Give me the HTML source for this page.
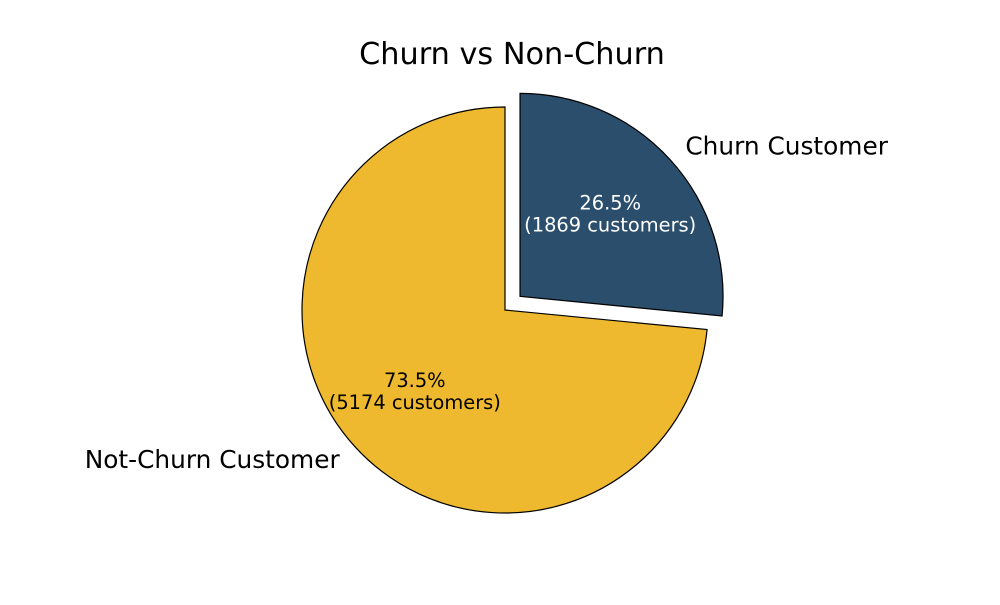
<!DOCTYPE html>
<html><head><meta charset="utf-8"><style>
body{margin:0;background:#fff}
svg text{font-family:"DejaVu Sans","Liberation Sans",sans-serif}
</style></head><body>
<svg id="chart" width="1000" height="600" viewBox="0 0 1000 600" xmlns="http://www.w3.org/2000/svg">
<text x="512" y="64" font-size="30.3" text-anchor="middle" fill="#000">Churn vs Non-Churn</text>
<g id="slices"></g>
</svg>
<script>
const categories = ["Churn Customer", "Not-Churn Customer"];
const values = [1869, 5174];
const explode = [0.1, 0];
const colors = ["#2a4e6c", "#eeb92f"];
const textColors = ["#fff", "#000"];
const cx = 505, cy = 310, r = 203;
const g = document.getElementById('slices');
const NS = "http://www.w3.org/2000/svg";
const total = values.reduce((a,b)=>a+b,0);
let start = 90;
values.forEach((v,i)=>{
  const sweep = v/total*360;
  const a0 = start, a1 = start - sweep, mid = (a0+a1)/2;
  const rad = d=>d*Math.PI/180;
  const ox = cx + explode[i]*r*Math.cos(rad(mid));
  const oy = cy - explode[i]*r*Math.sin(rad(mid));
  const x0 = ox + r*Math.cos(rad(a0)), y0 = oy - r*Math.sin(rad(a0));
  const x1 = ox + r*Math.cos(rad(a1)), y1 = oy - r*Math.sin(rad(a1));
  const large = sweep > 180 ? 1 : 0;
  const p = document.createElementNS(NS,'path');
  p.setAttribute('d',`M${ox},${oy} L${x0},${y0} A${r},${r} 0 ${large} 1 ${x1},${y1} Z`);
  p.setAttribute('fill',colors[i]);
  p.setAttribute('stroke','#000');
  p.setAttribute('stroke-width','1.2');
  
  
  g.appendChild(p);
  const c = Math.cos(rad(mid)), s = Math.sin(rad(mid));
  const lx = ox + 1.1*r*c, ly = oy - 1.1*r*s;
  const lt = document.createElementNS(NS,'text');
  lt.setAttribute('x',lx); lt.setAttribute('y',ly+8);
  lt.setAttribute('font-size','24.8');
  lt.setAttribute('text-anchor', c>=0?'start':'end');
  lt.textContent = categories[i];
  
  
  g.appendChild(lt);
  const px = ox + 0.6*r*c, py = oy - 0.6*r*s;
  const pct = (v/total*100).toFixed(1)+'%';
  [pct, '('+v+' customers)'].forEach((t,k)=>{
    const tt = document.createElementNS(NS,'text');
    tt.setAttribute('x',px); tt.setAttribute('y',py - 5 + k*22);
    tt.setAttribute('font-size','19.4');
    tt.setAttribute('text-anchor','middle');
    tt.setAttribute('fill',textColors[i]);
    tt.textContent = t;
    
    
    g.appendChild(tt);
  });
  start = a1;
});
</script>
</body></html>
